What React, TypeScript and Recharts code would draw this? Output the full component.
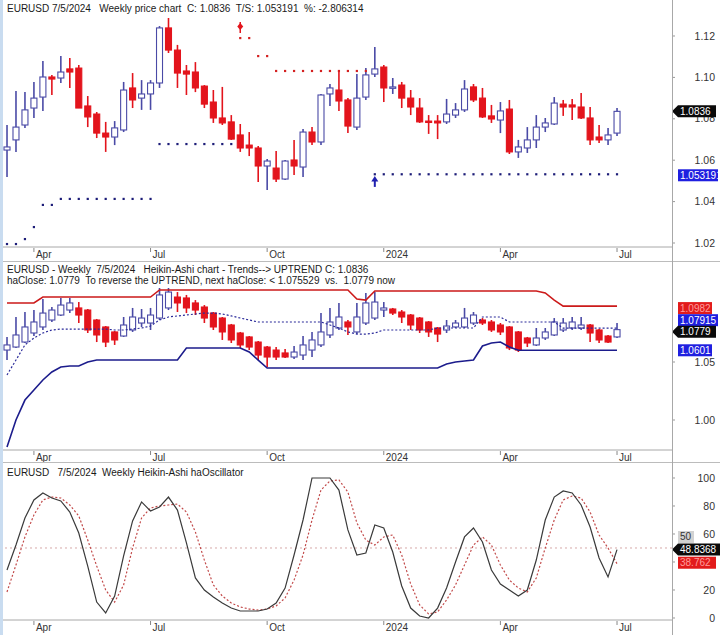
import React from 'react'
import { ComposedChart, Bar, Line, XAxis, YAxis, ReferenceLine } from 'recharts'

// EURUSD weekly, 69 bars (week of 2023-03-13 .. week of 2024-07-01)
const priceOpen = [
  1.0649, 1.0698, 1.0770, 1.0852, 1.0905, 1.1002, 1.0997, 1.1041, 1.1045, 1.0862,
  1.0823, 1.0731, 1.0712, 1.0746, 1.0949, 1.0900, 1.0920, 1.0973, 1.1239, 1.1132,
  1.1031, 1.1026, 1.0958, 1.0881, 1.0804, 1.0785, 1.0722, 1.0673, 1.0659, 1.0572,
  1.0562, 1.0509, 1.0601, 1.0567, 1.0736, 1.0688, 1.0920, 1.0939, 1.0891, 1.0760,
  1.0905, 1.1016, 1.1050, 1.0949, 1.0963, 1.0900, 1.0852, 1.0789, 1.0789, 1.0785,
  1.0818, 1.0843, 1.0954, 1.0900, 1.0814, 1.0794, 1.0847, 1.0640, 1.0659, 1.0698,
  1.0760, 1.0775, 1.0871, 1.0867, 1.0857, 1.0804, 1.0712, 1.0698, 1.0731,
]
const priceHigh = [
  1.0770, 1.0934, 1.0929, 1.0978, 1.1079, 1.1012, 1.1103, 1.1094, 1.1060, 1.0910,
  1.0833, 1.0785, 1.0789, 1.0978, 1.1021, 1.0987, 1.0987, 1.1248, 1.1287, 1.1157,
  1.1060, 1.1074, 1.0963, 1.0939, 1.0954, 1.0818, 1.0775, 1.0736, 1.0669, 1.0606,
  1.0644, 1.0601, 1.0698, 1.0751, 1.0760, 1.0920, 1.0968, 1.1036, 1.0900, 1.1016,
  1.1045, 1.1147, 1.1060, 1.0997, 1.0978, 1.0939, 1.0900, 1.0818, 1.0818, 1.0896,
  1.0876, 1.0987, 1.0968, 1.0949, 1.0867, 1.0881, 1.0891, 1.0698, 1.0760, 1.0818,
  1.0804, 1.0905, 1.0891, 1.0896, 1.0925, 1.0857, 1.0770, 1.0756, 1.0852,
]
const priceLow = [
  1.0519, 1.0640, 1.0756, 1.0804, 1.0838, 1.0915, 1.0973, 1.0949, 1.0852, 1.0760,
  1.0707, 1.0640, 1.0673, 1.0736, 1.0852, 1.0843, 1.0843, 1.0949, 1.1118, 1.0949,
  1.0915, 1.0929, 1.0852, 1.0780, 1.0770, 1.0698, 1.0640, 1.0620, 1.0495, 1.0456,
  1.0495, 1.0504, 1.0529, 1.0519, 1.0673, 1.0673, 1.0862, 1.0838, 1.0731, 1.0746,
  1.0891, 1.1002, 1.0881, 1.0920, 1.0852, 1.0818, 1.0780, 1.0727, 1.0702, 1.0775,
  1.0804, 1.0833, 1.0881, 1.0804, 1.0780, 1.0731, 1.0630, 1.0611, 1.0635, 1.0659,
  1.0736, 1.0770, 1.0814, 1.0794, 1.0799, 1.0673, 1.0683, 1.0673, 1.0717,
]
const priceClose = [
  1.0664, 1.0760, 1.0843, 1.0900, 1.1002, 1.0992, 1.1026, 1.1026, 1.0852, 1.0809,
  1.0731, 1.0712, 1.0756, 1.0939, 1.0891, 1.0920, 1.0973, 1.1239, 1.1132, 1.1021,
  1.1016, 1.0949, 1.0871, 1.0804, 1.0780, 1.0702, 1.0659, 1.0659, 1.0572, 1.0596,
  1.0509, 1.0596, 1.0572, 1.0736, 1.0688, 1.0915, 1.0949, 1.0886, 1.0765, 1.0900,
  1.1012, 1.1041, 1.0949, 1.0954, 1.0900, 1.0857, 1.0785, 1.0785, 1.0780, 1.0823,
  1.0843, 1.0944, 1.0891, 1.0809, 1.0799, 1.0838, 1.0640, 1.0664, 1.0698, 1.0760,
  1.0780, 1.0876, 1.0857, 1.0857, 1.0804, 1.0698, 1.0698, 1.0722, 1.0836,
]

// trailing stops (null = no stop on that side)
const N = null
const longStop = [
  1.0195, 1.0195, 1.0219, 1.0277, 1.0384, 1.0384, 1.0413, 1.0413, 1.0413, 1.0413,
  1.0413, 1.0413, 1.0413, 1.0413, 1.0413, 1.0413, 1.0413, 1.0678, 1.0678, 1.0678,
  1.0678, 1.0678, 1.0678, 1.0678, 1.0678, 1.0678, N, N, N, N,
  N, N, N, N, N, N, N, N, N, N,
  N, 1.0532, 1.0532, 1.0532, 1.0532, 1.0532, 1.0532, 1.0532, 1.0532, 1.0532,
  1.0532, 1.0532, 1.0532, 1.0532, 1.0532, 1.0532, 1.0532, 1.0532, 1.0532, 1.0532,
  1.0532, 1.0532, 1.0532, 1.0532, 1.0532, 1.0532, 1.0532, 1.0532, 1.0532,
]
const shortStop = [
  N, N, N, N, N, N, N, N, N, N,
  N, N, N, N, N, N, N, N, N, N,
  N, N, N, N, N, N, 1.1190, 1.1190, 1.1103, 1.1103,
  1.1031, 1.1031, 1.1031, 1.1031, 1.1031, 1.1031, 1.1031, 1.1031, 1.1031, 1.1031,
  1.1031, N, N, N, N, N, N, N, N, N,
  N, N, N, N, N, N, N, N, N, N,
  N, N, N, N, N, N, N, N, N,
]
const sellSignal = { index: 26, price: 1.1239 }
const buySignal = { index: 41, price: 1.0500 }

// Heikin-Ashi candles
const haOpen = [
  1.0603, 1.0629, 1.0672, 1.0750, 1.0802, 1.0862, 1.0905, 1.0948, 1.0966, 1.0948,
  1.0862, 1.0802, 1.0759, 1.0724, 1.0776, 1.0836, 1.0836, 1.0879, 1.0966, 1.1060,
  1.1052, 1.1009, 1.0974, 1.0922, 1.0879, 1.0819, 1.0750, 1.0716, 1.0672, 1.0629,
  1.0603, 1.0578, 1.0543, 1.0560, 1.0603, 1.0647, 1.0733, 1.0793, 1.0845, 1.0759,
  1.0836, 1.0879, 1.0948, 1.0957, 1.0931, 1.0905, 1.0879, 1.0845, 1.0793, 1.0776,
  1.0802, 1.0802, 1.0836, 1.0862, 1.0845, 1.0819, 1.0802, 1.0759, 1.0707, 1.0647,
  1.0707, 1.0733, 1.0776, 1.0793, 1.0793, 1.0819, 1.0776, 1.0724, 1.0716,
]
const haHigh = [
  1.0716, 1.0888, 1.0931, 1.0948, 1.1043, 1.0974, 1.1052, 1.1052, 1.1017, 1.0957,
  1.0871, 1.0810, 1.0767, 1.0888, 1.0966, 1.0957, 1.0966, 1.1138, 1.1138, 1.1103,
  1.1078, 1.1034, 1.0991, 1.0931, 1.0888, 1.0828, 1.0759, 1.0724, 1.0681, 1.0638,
  1.0629, 1.0612, 1.0638, 1.0724, 1.0759, 1.0922, 1.0966, 1.1009, 1.0862, 1.1009,
  1.1095, 1.1103, 1.1017, 1.0966, 1.0948, 1.0914, 1.0888, 1.0853, 1.0802, 1.0862,
  1.0862, 1.0966, 1.0931, 1.0879, 1.0862, 1.0836, 1.0810, 1.0767, 1.0716, 1.0793,
  1.0793, 1.0879, 1.0879, 1.0888, 1.0888, 1.0828, 1.0784, 1.0733, 1.0836,
]
const haLow = [
  1.0517, 1.0621, 1.0664, 1.0724, 1.0776, 1.0845, 1.0897, 1.0922, 1.0836, 1.0750,
  1.0672, 1.0629, 1.0647, 1.0716, 1.0759, 1.0802, 1.0776, 1.0862, 1.0948, 1.0931,
  1.0922, 1.0905, 1.0836, 1.0776, 1.0690, 1.0664, 1.0621, 1.0603, 1.0517, 1.0457,
  1.0517, 1.0534, 1.0526, 1.0517, 1.0543, 1.0629, 1.0707, 1.0776, 1.0733, 1.0741,
  1.0819, 1.0862, 1.0888, 1.0905, 1.0836, 1.0776, 1.0750, 1.0716, 1.0672, 1.0750,
  1.0793, 1.0793, 1.0819, 1.0819, 1.0759, 1.0733, 1.0603, 1.0586, 1.0629, 1.0638,
  1.0690, 1.0724, 1.0759, 1.0776, 1.0776, 1.0672, 1.0664, 1.0664, 1.0707,
]
const haClose = [
  1.0647, 1.0733, 1.0802, 1.0845, 1.0922, 1.0948, 1.0991, 1.1009, 1.0905, 1.0776,
  1.0733, 1.0672, 1.0690, 1.0819, 1.0888, 1.0879, 1.0905, 1.1078, 1.1103, 1.1009,
  1.0966, 1.0948, 1.0879, 1.0802, 1.0759, 1.0690, 1.0647, 1.0629, 1.0560, 1.0543,
  1.0543, 1.0543, 1.0586, 1.0647, 1.0690, 1.0759, 1.0845, 1.0888, 1.0802, 1.0888,
  1.1009, 1.1017, 1.0966, 1.0922, 1.0888, 1.0819, 1.0776, 1.0759, 1.0741, 1.0810,
  1.0836, 1.0879, 1.0905, 1.0836, 1.0776, 1.0759, 1.0621, 1.0603, 1.0664, 1.0707,
  1.0759, 1.0845, 1.0836, 1.0845, 1.0819, 1.0750, 1.0690, 1.0672, 1.0779,
]
const upperBand = [
  1.1009, 1.1009, 1.1009, 1.1009, 1.1060, 1.1060, 1.1060, 1.1060, 1.1060, 1.1060,
  1.1060, 1.1060, 1.1060, 1.1060, 1.1060, 1.1060, 1.1060, 1.1121, 1.1121, 1.1121,
  1.1121, 1.1121, 1.1121, 1.1121, 1.1121, 1.1121, 1.1121, 1.1121, 1.1121, 1.1121,
  1.1121, 1.1121, 1.1121, 1.1121, 1.1121, 1.1121, 1.1121, 1.1121, 1.1121, 1.1043,
  1.1034, 1.1112, 1.1112, 1.1112, 1.1112, 1.1112, 1.1112, 1.1112, 1.1112, 1.1112,
  1.1112, 1.1112, 1.1112, 1.1112, 1.1112, 1.1112, 1.1112, 1.1112, 1.1112, 1.1112,
  1.1095, 1.1034, 1.0982, 1.0982, 1.0982, 1.0982, 1.0982, 1.0982, 1.0982,
]
const lowerBand = [
  0.9767, 1.0000, 1.0172, 1.0259, 1.0345, 1.0414, 1.0457, 1.0466, 1.0466, 1.0500,
  1.0517, 1.0517, 1.0517, 1.0517, 1.0517, 1.0517, 1.0517, 1.0517, 1.0517, 1.0517,
  1.0621, 1.0621, 1.0621, 1.0621, 1.0621, 1.0621, 1.0621, 1.0586, 1.0517, 1.0448,
  1.0448, 1.0448, 1.0448, 1.0448, 1.0448, 1.0448, 1.0448, 1.0448, 1.0448, 1.0448,
  1.0448, 1.0448, 1.0448, 1.0448, 1.0448, 1.0448, 1.0448, 1.0448, 1.0448, 1.0483,
  1.0500, 1.0509, 1.0517, 1.0638, 1.0664, 1.0672, 1.0629, 1.0601, 1.0601, 1.0601,
  1.0601, 1.0601, 1.0601, 1.0601, 1.0601, 1.0601, 1.0601, 1.0601, 1.0601,
]
const midLine = [
  1.0388, 1.0517, 1.0647, 1.0707, 1.0750, 1.0776, 1.0784, 1.0784, 1.0784, 1.0784,
  1.0784, 1.0784, 1.0776, 1.0776, 1.0784, 1.0793, 1.0810, 1.0862, 1.0888, 1.0897,
  1.0905, 1.0914, 1.0922, 1.0922, 1.0914, 1.0897, 1.0879, 1.0862, 1.0845, 1.0845,
  1.0845, 1.0845, 1.0845, 1.0845, 1.0845, 1.0845, 1.0819, 1.0793, 1.0759, 1.0741,
  1.0741, 1.0750, 1.0776, 1.0776, 1.0776, 1.0776, 1.0776, 1.0776, 1.0793, 1.0793,
  1.0793, 1.0793, 1.0793, 1.0888, 1.0888, 1.0888, 1.0845, 1.0845, 1.0845, 1.0845,
  1.0845, 1.0845, 1.07915, 1.07915, 1.07915, 1.07915, 1.07915, 1.07915, 1.07915,
]

// haOscillator and its signal line
const osc = [
  34.3, 52.1, 71.4, 84.3, 89.3, 85.7, 83.6, 75.7, 60.7, 37.1,
  11.4, 3.6, 15.7, 44.3, 69.3, 82.9, 76.4, 79.3, 86.4, 77.1,
  53.6, 28.6, 20.0, 15.0, 10.7, 7.1, 5.0, 5.0, 5.0, 6.4,
  10.7, 21.4, 45.0, 70.0, 100, 100, 100, 91.4, 62.9, 45.0,
  46.4, 66.4, 64.3, 47.1, 22.9, 7.1, 1.4, 0.0, 7.1, 21.4,
  40.0, 57.9, 64.3, 54.3, 34.3, 24.3, 20.0, 15.7, 20.0, 41.4,
  70.0, 86.4, 90.7, 89.3, 80.7, 65.0, 42.9, 29.3, 48.8368,
]
const oscSignal = [
  18.6, 37.9, 57.9, 73.6, 84.3, 86.4, 85.7, 80.7, 72.9, 55.7,
  37.1, 20.0, 11.4, 23.6, 50.0, 71.4, 78.6, 80.0, 80.7, 81.4,
  75.7, 61.4, 41.4, 23.6, 15.7, 10.7, 7.9, 6.4, 5.7, 6.4,
  8.6, 14.3, 27.1, 45.0, 70.0, 91.4, 97.9, 98.6, 90.0, 67.9,
  55.7, 52.1, 57.9, 59.3, 45.0, 24.3, 9.3, 2.9, 4.3, 12.9,
  23.6, 37.9, 52.1, 57.9, 52.1, 37.9, 27.1, 21.4, 18.6, 28.6,
  50.0, 70.0, 84.3, 87.1, 85.7, 75.7, 59.3, 50.0, 38.762,
]

const tickIdx = [3, 16, 29, 42, 55, 68]
const tickText = ['Apr', 'Jul', 'Oct', '2024', 'Apr', 'Jul']
const priceTicks = [1.02, 1.04, 1.06, 1.08, 1.10, 1.12]
const haTicks = [1.0, 1.05]
const oscTicks = [0, 20, 40, 60, 80, 100]
// the 40 label sits fully under the value tags in the source chart
const oscHiddenLabels = [40]

const FONT = '"Liberation Sans", Arial, sans-serif'
const UP_EDGE = '#4a4aa6'
const DOWN = '#e3141c'
const X_DOMAIN: [number, number] = [-0.446, 74.129]
const MARGIN = { top: 0, right: 0, bottom: 0, left: 3 }
const PRICE_DOMAIN: [number, number] = [1.01807, 1.13739]
const HA_DOMAIN: [number, number] = [0.97414, 1.13621]
const OSC_DOMAIN: [number, number] = [-1.43, 110.71]

const priceData = priceOpen.map((o, i) => ({
  i, o, h: priceHigh[i], l: priceLow[i], c: priceClose[i],
  longStop: longStop[i], shortStop: shortStop[i],
  sell: i === sellSignal.index ? sellSignal.price : null,
  buy: i === buySignal.index ? buySignal.price : null,
}))
const haData = haOpen.map((o, i) => ({
  i, o, h: haHigh[i], l: haLow[i], c: haClose[i],
  upper: upperBand[i], lower: lowerBand[i], mid: midLine[i],
}))
const oscData = osc.map((v, i) => ({ i, osc: v, sig: oscSignal[i] }))

const Candle = (props: any) => {
  const { x, y, width, height, payload } = props
  const { o, h, l, c } = payload
  const top = Math.min(y, y + height)
  const span = Math.abs(height)
  const k = h > l ? span / (h - l) : 0
  const py = (v: number) => top + (h - v) * k
  const cx = x + width / 2
  const up = c >= o
  const bTop = py(Math.max(o, c))
  const bH = Math.max(py(Math.min(o, c)) - bTop, 1.4)
  const bw = 6
  return (
    <g>
      <line x1={cx} x2={cx} y1={top} y2={top + span} stroke={up ? UP_EDGE : DOWN} strokeWidth={1.6} />
      <rect x={cx - bw / 2} y={bTop} width={bw} height={bH}
        fill={up ? '#ffffff' : DOWN} stroke={up ? UP_EDGE : DOWN} strokeWidth={1.1} />
    </g>
  )
}

const stopDot = (color: string) => (p: any) => {
  const key = `d${p.index}`
  if (p.value == null || p.cy == null || isNaN(p.cy)) return <g key={key} />
  return <rect key={key} x={p.cx - 1.1} y={p.cy - 1.1} width={2.2} height={2.2} fill={color} />
}

const sellDot = (p: any) => {
  const key = `s${p.index}`
  if (p.value == null || p.cy == null || isNaN(p.cy)) return <g key={key} />
  const { cx, cy } = p
  return (
    <g key={key}>
      <line x1={cx} x2={cx} y1={cy - 6} y2={cy + 5} stroke={DOWN} strokeWidth={1.5} />
      <polygon points={`${cx},${cy - 5} ${cx + 3},${cy - 1.5} ${cx},${cy + 2} ${cx - 3},${cy - 1.5}`} fill={DOWN} />
    </g>
  )
}

const buyDot = (p: any) => {
  const key = `b${p.index}`
  if (p.value == null || p.cy == null || isNaN(p.cy)) return <g key={key} />
  const { cx, cy } = p
  return (
    <g key={key}>
      <polygon points={`${cx},${cy - 5} ${cx + 3.5},${cy + 0.5} ${cx - 3.5},${cy + 0.5}`} fill="#2020b0" />
      <line x1={cx} x2={cx} y1={cy} y2={cy + 6} stroke="#2020b0" strokeWidth={2} />
    </g>
  )
}

const XTick = (p: any) => {
  const label = tickText[tickIdx.indexOf(p.payload.value)]
  return (
    <g>
      <line x1={p.x} x2={p.x} y1={p.y + 1} y2={p.y + 5} stroke="#888" />
      <text x={p.x + 2} y={p.y + 11} fontSize={10} fill="#333" fontFamily={FONT}>{label}</text>
    </g>
  )
}

const makeYTick = (fmt: (v: number) => string, hidden: number[] = []) => (p: any) => {
  if (hidden.includes(p.payload.value)) return <g />
  return (
    <text x={p.x + 40} y={p.y} dy="0.35em" textAnchor="end" fontSize={10.5} fill="#333" fontFamily={FONT}>
      {fmt(p.payload.value)}
    </text>
  )
}

const ValueTag = (props: any) => {
  const { viewBox, text, fill, color = '#fff', arrow = false, dy = 0, w = 38 } = props
  if (!viewBox) return null
  const right = viewBox.x + viewBox.width
  const cy = viewBox.y + dy
  const shape = arrow
    ? <polygon points={`${right},${cy} ${right + 6},${cy - 6} ${right + 6 + w},${cy - 6} ${right + 6 + w},${cy + 6} ${right + 6},${cy + 6}`} fill={fill} />
    : <rect x={right + 6} y={cy - 6} width={w} height={12} fill={fill} />
  return (
    <g>
      {shape}
      <text x={right + 8} y={cy} dy="0.35em" fontSize={10} fill={color} fontFamily={FONT}>{text}</text>
    </g>
  )
}

// transparent layer above a panel so the value tags cover the axis labels
const TagLayer = ({ top, height, xHeight, domain, data, children }: any) => (
  <div style={{ position: 'absolute', left: 0, top, pointerEvents: 'none' }}>
    <ComposedChart width={720} height={height} data={data} margin={{ top: 0, right: 48, bottom: xHeight, left: 3 }}>
      <XAxis hide dataKey="i" type="number" domain={X_DOMAIN} allowDataOverflow />
      <YAxis hide domain={domain} allowDataOverflow />
      {children}
    </ComposedChart>
  </div>
)

const header: React.CSSProperties = {
  position: 'absolute', left: 7, fontFamily: FONT, fontSize: 10, lineHeight: '12px',
  color: '#1a1a1a', whiteSpace: 'pre', pointerEvents: 'none',
}
const hLine = (top: number): React.CSSProperties => ({
  position: 'absolute', left: 0, top, width: 720, height: 1, background: '#bcbcbc',
})

const xAxisProps = {
  dataKey: 'i', type: 'number' as const, domain: X_DOMAIN, allowDataOverflow: true,
  ticks: tickIdx, tick: <XTick />, tickLine: false, tickSize: 0, tickMargin: 0,
  axisLine: { stroke: '#a8a8a8' }, interval: 0 as const,
}

export default function App() {
  return (
    <div style={{ position: 'absolute', left: 0, top: 0, width: 720, height: 635, background: '#fff', overflow: 'hidden' }}>
      {/* price panel */}
      <div style={{ position: 'absolute', left: 0, top: 0 }}>
        <ComposedChart width={720} height={262} data={priceData} margin={MARGIN}>
          <XAxis {...xAxisProps} height={15} />
          <YAxis orientation="right" width={48} domain={PRICE_DOMAIN} allowDataOverflow ticks={priceTicks}
            tick={makeYTick((v) => v.toFixed(2))} tickSize={3} tickMargin={0} axisLine={false} tickLine={{ stroke: '#999' }} />
          <Line dataKey="longStop" stroke="none" dot={stopDot('#1c1c78')} activeDot={false} isAnimationActive={false} />
          <Line dataKey="shortStop" stroke="none" dot={stopDot('#d42020')} activeDot={false} isAnimationActive={false} />
          <Bar dataKey={(d: any) => [d.l, d.h]} barSize={7} shape={<Candle />} isAnimationActive={false} />
          <Line dataKey="sell" stroke="none" dot={sellDot} activeDot={false} isAnimationActive={false} />
          <Line dataKey="buy" stroke="none" dot={buyDot} activeDot={false} isAnimationActive={false} />
        </ComposedChart>
      </div>
      <TagLayer top={0} height={262} xHeight={15} domain={PRICE_DOMAIN} data={priceData}>
        <ReferenceLine y={priceClose[priceClose.length - 1]} stroke="none"
          label={<ValueTag text="1.0836" fill="#0a0a0a" arrow w={38} />} />
        <ReferenceLine y={longStop[longStop.length - 1]} stroke="none"
          label={<ValueTag text="1.053191" fill="#1f1fe0" w={40} dy={1} />} />
      </TagLayer>
      <div style={{ ...header, top: 3 }}>{'EURUSD 7/5/2024   Weekly price chart  C: 1.0836  T/S: 1.053191  %: -2.806314'}</div>

      <div style={hLine(261)} />

      {/* Heikin-Ashi panel */}
      <div style={{ position: 'absolute', left: 0, top: 262 }}>
        <ComposedChart width={720} height={201} data={haData} margin={MARGIN}>
          <XAxis {...xAxisProps} height={13} />
          <YAxis orientation="right" width={48} domain={HA_DOMAIN} allowDataOverflow ticks={haTicks}
            tick={makeYTick((v) => v.toFixed(2))} tickSize={3} tickMargin={0} axisLine={false} tickLine={{ stroke: '#999' }} />
          <Line dataKey="upper" stroke="#cc1a1a" strokeWidth={1.6} dot={false} activeDot={false} isAnimationActive={false} />
          <Line dataKey="lower" stroke="#1c1c8c" strokeWidth={1.6} dot={false} activeDot={false} isAnimationActive={false} />
          <Line dataKey="mid" stroke="#2a2a9a" strokeWidth={1.2} strokeDasharray="2 2" dot={false} activeDot={false} isAnimationActive={false} />
          <Bar dataKey={(d: any) => [d.l, d.h]} barSize={7} shape={<Candle />} isAnimationActive={false} />
        </ComposedChart>
      </div>
      <TagLayer top={262} height={201} xHeight={13} domain={HA_DOMAIN} data={haData}>
        <ReferenceLine y={upperBand[upperBand.length - 1]} stroke="none"
          label={<ValueTag text="1.0982" fill="#e21b1b" color="#ff9c9c" w={34} dy={2} />} />
        <ReferenceLine y={midLine[midLine.length - 1]} stroke="none"
          label={<ValueTag text="1.07915" fill="#1f1fe0" w={40} dy={-8} />} />
        <ReferenceLine y={haClose[haClose.length - 1]} stroke="none"
          label={<ValueTag text="1.0779" fill="#0a0a0a" arrow w={38} dy={2} />} />
        <ReferenceLine y={lowerBand[lowerBand.length - 1]} stroke="none"
          label={<ValueTag text="1.0601" fill="#1f1fe0" w={34} />} />
      </TagLayer>
      <div style={{ ...header, top: 264 }}>{'EURUSD - Weekly  7/5/2024   Heikin-Ashi chart - Trends--> UPTREND C: 1.0836'}</div>
      <div style={{ ...header, top: 275 }}>{'haClose: 1.0779  To reverse the UPTREND, next haClose: < 1.075529  vs.  1.0779 now'}</div>

      <div style={hLine(462)} />

      {/* oscillator panel */}
      <div style={{ position: 'absolute', left: 0, top: 463 }}>
        <ComposedChart width={720} height={172} data={oscData} margin={MARGIN}>
          <XAxis {...xAxisProps} height={15} />
          <YAxis orientation="right" width={48} domain={OSC_DOMAIN} allowDataOverflow ticks={oscTicks}
            tick={makeYTick((v) => String(v), oscHiddenLabels)} tickSize={3} tickMargin={0} axisLine={false} tickLine={{ stroke: '#999' }} />
          <ReferenceLine y={50} stroke="#d6a8a8" strokeDasharray="2 3" />
          <Line dataKey="sig" stroke="#c24a4a" strokeWidth={1.2} strokeDasharray="2 2" dot={false} activeDot={false} isAnimationActive={false} />
          <Line dataKey="osc" stroke="#3a3a3a" strokeWidth={1.2} dot={false} activeDot={false} isAnimationActive={false} />
        </ComposedChart>
      </div>
      <TagLayer top={463} height={172} xHeight={15} domain={OSC_DOMAIN} data={oscData}>
        <ReferenceLine y={50} stroke="none"
          label={<ValueTag text="50" fill="#d2d2d2" color="#333" w={16} dy={-11} />} />
        <ReferenceLine y={osc[osc.length - 1]} stroke="none"
          label={<ValueTag text="48.8368" fill="#0a0a0a" arrow w={44} />} />
        <ReferenceLine y={oscSignal[oscSignal.length - 1]} stroke="none"
          label={<ValueTag text="38.762" fill="#e21b1b" color="#ff9c9c" w={38} dy={-1} />} />
      </TagLayer>
      <div style={{ ...header, top: 467 }}>{'EURUSD   7/5/2024  Weekly Heikin-Ashi haOscillator'}</div>

      <div style={{ position: 'absolute', left: 672, top: 0, width: 1, height: 635, background: '#a8a8a8' }} />
      <div style={{ position: 'absolute', left: 0, top: 0, width: 3, height: 635, background: '#c9dcf0' }} />
    </div>
  )
}
